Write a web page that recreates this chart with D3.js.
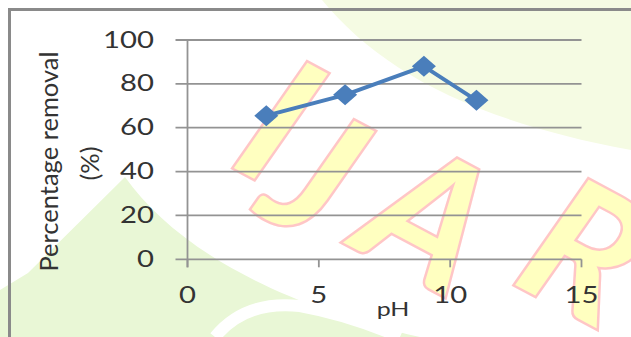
<!DOCTYPE html>
<html>
<head>
<meta charset="utf-8">
<script src="https://cdn.jsdelivr.net/npm/d3@7"></script>
<style>
  html, body { margin: 0; padding: 0; background: #ffffff; }
  svg { display: block; }
  text { font-family: Lato, "Open Sans", sans-serif; fill: #333333; }
</style>
</head>
<body>
<svg id="chart" width="631" height="337"></svg>
<script>
// Removal efficiency versus pH
const phValues = [3, 6, 9, 11];
const removalValues = [65.5, 75, 88, 72.5];
const xTickValues = [0, 5, 10, 15];
const yTickValues = [0, 20, 40, 60, 80, 100];
const yTitleLines = ["Percentage removal", "(%)"];
const xTitle = "pH";
const watermarkLetters = ["I", "J", "A", "R"];

const svg = d3.select("#chart");
const W = 631, H = 337;

svg.append("rect").attr("width", W).attr("height", H).attr("fill", "#ffffff");

// ---- background watermark ----
const bg = svg.append("g").attr("class", "watermark");
bg.append("path")
  .attr("d", "M322,0 C380,70 470,120 631,150 L631,0 Z")
  .attr("fill", "#f5fbe3");
bg.append("path")
  .attr("d", "M28,273 L125,177 C170,240 260,300 420,337 L0,337 L0,290 Z")
  .attr("fill", "#e9f7d6");
bg.append("path")
  .attr("d", "M215,337 Q245,300 300,306 Q350,315 400,337")
  .attr("fill", "none").attr("stroke", "#ffffff").attr("stroke-width", 12);

const letterPos = [[282, 116], [318, 168], [432, 212], [588, 246]];
bg.selectAll("text.wm")
  .data(watermarkLetters)
  .join("text")
  .attr("class", "wm")
  .attr("transform", (d, i) => `translate(${letterPos[i][0]},${letterPos[i][1]}) rotate(28)`)
  .attr("text-anchor", "middle")
  .attr("dominant-baseline", "central")
  .style("font-family", "Lato, sans-serif")
  .style("font-weight", "bold")
  .style("font-style", "italic")
  .style("font-size", "176px")
  .style("fill", "#ffffc0")
  .style("stroke", "#ffc6c6")
  .style("stroke-width", 5)
  .style("paint-order", "stroke")
  .text(d => d);

// ---- outer frame ----
svg.append("line").attr("x1", 8).attr("x2", W).attr("y1", 9.5).attr("y2", 9.5)
  .attr("stroke", "#8a8a8a").attr("stroke-width", 3);
svg.append("line").attr("x1", 9.5).attr("x2", 9.5).attr("y1", 8).attr("y2", H)
  .attr("stroke", "#8a8a8a").attr("stroke-width", 3);

// ---- scales ----
const x = d3.scaleLinear().domain([0, 15]).range([187.5, 581.5]);
const y = d3.scaleLinear().domain([0, 100]).range([259.3, 40]);

const gridColor = "#939393";

// horizontal gridlines with outward ticks on the left
svg.append("g").selectAll("line")
  .data(yTickValues)
  .join("line")
  .attr("x1", x(0) - 12).attr("x2", x(15))
  .attr("y1", d => y(d)).attr("y2", d => y(d))
  .attr("stroke", gridColor).attr("stroke-width", 1.8);

// vertical axis line
svg.append("line")
  .attr("x1", x(0)).attr("x2", x(0))
  .attr("y1", y(100)).attr("y2", y(0) + 8)
  .attr("stroke", gridColor).attr("stroke-width", 1.8);

// x ticks
svg.append("g").selectAll("line")
  .data(xTickValues)
  .join("line")
  .attr("x1", d => x(d)).attr("x2", d => x(d))
  .attr("y1", y(0)).attr("y2", y(0) + 8)
  .attr("stroke", gridColor).attr("stroke-width", 1.8);

// y tick labels
svg.append("g").selectAll("text")
  .data(yTickValues)
  .join("text")
  .attr("transform", d => `translate(154,${y(d) + 7.5}) scale(1.22,1)`)
  .attr("text-anchor", "end")
  .style("font-size", "24px")
  .text(d => d);

// x tick labels
svg.append("g").selectAll("text")
  .data(xTickValues)
  .join("text")
  .attr("transform", d => `translate(${x(d)},303) scale(1.22,1)`)
  .attr("text-anchor", "middle")
  .style("font-size", "24px")
  .text(d => d);

// axis titles
const titleX = [58, 99];
const titleY = [161.5, 163.5];
svg.append("g").selectAll("text")
  .data(yTitleLines)
  .join("text")
  .attr("transform", (d, i) => `translate(${titleX[i]},${titleY[i]}) rotate(-90)`)
  .attr("text-anchor", "middle")
  .style("font-size", "25.5px")
  .text(d => d);

svg.append("text")
  .attr("transform", "translate(393,316) scale(1.25,1)")
  .attr("text-anchor", "middle")
  .style("font-size", "20px")
  .text(xTitle);

// ---- data series ----
const pts = phValues.map((p, i) => [p, removalValues[i]]);
svg.append("path")
  .datum(pts)
  .attr("d", d3.line().x(d => x(d[0])).y(d => y(d[1])))
  .attr("fill", "none")
  .attr("stroke", "#4a7ebb")
  .attr("stroke-width", 4)
  .attr("stroke-linejoin", "round");

const mw = 12, mh = 10.5;
svg.append("g").selectAll("path")
  .data(pts)
  .join("path")
  .attr("transform", d => `translate(${x(d[0])},${y(d[1])})`)
  .attr("d", () => {
    const p = d3.path();
    p.moveTo(0, -mh); p.lineTo(mw, 0); p.lineTo(0, mh); p.lineTo(-mw, 0); p.closePath();
    return p.toString();
  })
  .attr("fill", "#4a7ebb");
</script>
</body>
</html>
